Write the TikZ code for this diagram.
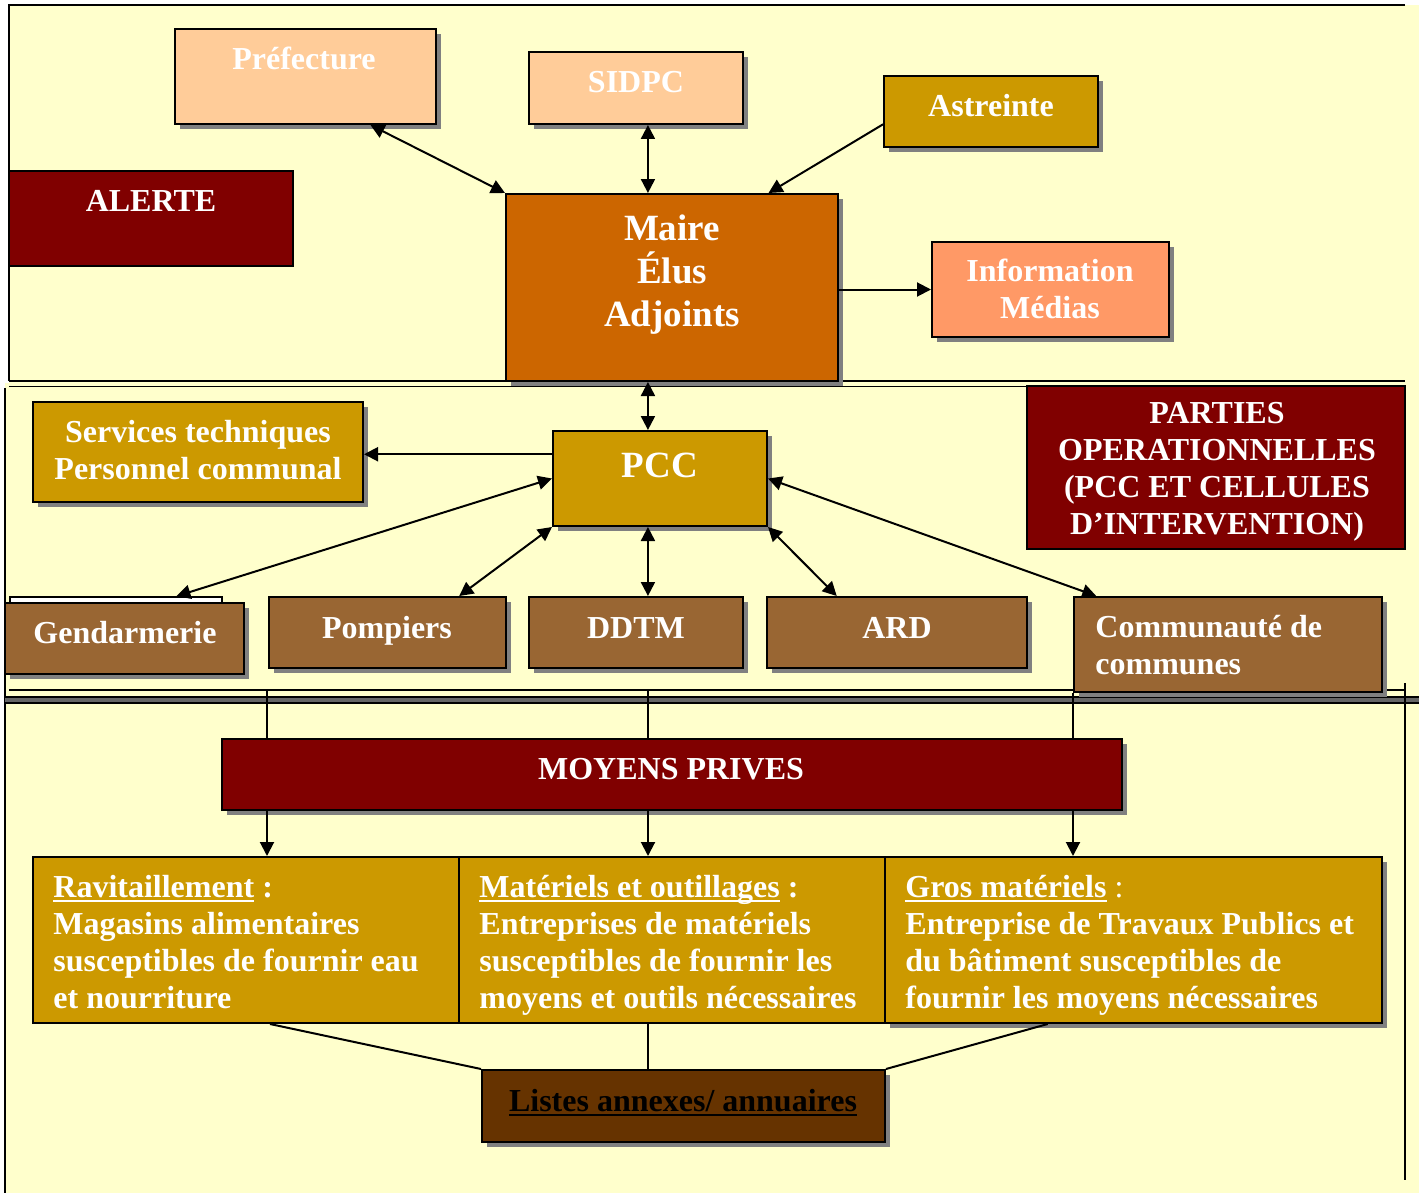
\documentclass[tikz,border=0pt]{standalone}
\usepackage{fontspec}
\setmainfont{Liberation Serif}
\usetikzlibrary{arrows.meta,shadows,fit,calc}
\definecolor{bgyellow}{HTML}{FFFFCC}
\definecolor{peach}{HTML}{FFCC99}
\definecolor{gold}{HTML}{CC9900}
\definecolor{maroon}{HTML}{800000}
\definecolor{rust}{HTML}{CC6600}
\definecolor{salmon}{HTML}{FF9966}
\definecolor{brownbox}{HTML}{996633}
\definecolor{darkbrown}{HTML}{663300}
\definecolor{shadowgray}{HTML}{808080}
\newcommand\myuline[1]{\setbox0\hbox{#1}\rlap{\rule[-2.4pt]{\wd0}{1pt}}\box0\relax}
\begin{document}
\begin{tikzpicture}[x=0.5pt,y=-0.5pt,
  box/.style={draw=black, line width=1pt, inner sep=0pt},
  shad/.style={drop shadow={shadow xshift=2.5pt, shadow yshift=-2.5pt, fill=shadowgray, opacity=1}},
  lbl/.style={text=white, font=\fontsize{16}{18.4}\selectfont\bfseries, inner sep=0pt, align=center, anchor=base},
  lbll/.style={lbl, align=left, anchor=base west},
  big/.style={lbl, font=\fontsize{18.5}{21.3}\selectfont\bfseries},
  conn/.style={line width=1pt},
  arr/.style={conn, -{Triangle[length=7pt,width=7pt]}},
  darr/.style={conn, {Triangle[length=7pt,width=7pt]}-{Triangle[length=7pt,width=7pt]}},
  sepline/.style={line width=1pt}
]
\useasboundingbox (0,0) rectangle (1419,1193);
% background
\fill[white] (0,0) rectangle (1419,1193);
\fill[bgyellow] (9,5) rectangle (1419,386);
\fill[bgyellow] (5,383) rectangle (1419,1193);
% band separators
\draw[sepline] (1405,5) -- (9,5) -- (9,381);
\draw[line width=1.3pt] (9,381) -- (1405,381);
\draw[line width=0.8pt] (9,386.5) -- (1405,386.5);
\draw[line width=0.8pt] (5,388) -- (5,1193);
\draw[line width=0.9pt] (9,690) -- (1405,690);
\fill[black!60] (5,697) rectangle (1419,703);
\draw[line width=0.8pt] (5,697) -- (1419,697);
\draw[line width=0.8pt] (5,703) -- (1419,703);
\draw[line width=0.8pt] (1405,683) -- (1405,1180);

% ---------- top band ----------
\node[box, shad, fill=peach, fit={(175,29)(436,124)}] (pref) {};
\node[box, shad, fill=peach, fit={(529,52)(743,124)}] (sidpc) {};
\node[box, shad, fill=gold, fit={(884,76)(1098,147)}] (astr) {};
\node[box, fill=maroon, fit={(9,171)(293,266)}] (alerte) {};
\node[box, shad, fill=rust, fit={(506,194)(838,381)}] (maire) {};
\node[box, shad, fill=salmon, fit={(932,242)(1169,337)}] (info) {};

% multi-line texts are placed by the baseline of their last line
\node[lbl] (tpref) at (304,70) {Préfecture};
\node[lbl] (tsidpc) at (636,93) {SIDPC};
\node[lbl] (tastr) at (991,117) {Astreinte};
\node[lbl] (talerte) at (151,211) {ALERTE};
\node[big] (tmaire) at (672,326) {Maire\\Élus\\Adjoints};
\node[lbl] (tinfo) at (1050,318) {Information\\Médias};

% ---------- middle band ----------
\node[box, shad, fill=gold, fit={(33,402)(363,502)}] (serv) {};
\node[box, shad, fill=gold, fit={(553,431)(767,526)}] (pcc) {};
\node[box, fill=maroon, fit={(1027,386)(1405,549)}] (parties) {};
\node[box, line width=0.8pt, fill=white, fit={(10,597)(222,610)}] (gendback) {};
\node[box, shad, fill=brownbox, fit={(5,603)(244,674)}] (gend) {};
\node[box, shad, fill=brownbox, fit={(269,597)(506,668)}] (pomp) {};
\node[box, shad, fill=brownbox, fit={(529,597)(743,668)}] (ddtm) {};
\node[box, shad, fill=brownbox, fit={(767,597)(1027,668)}] (ard) {};
\node[box, shad, fill=brownbox, fit={(1074,597)(1382,692)}] (comm) {};

\node[lbl] (tserv) at (198,479) {Services techniques\\Personnel communal};
\node[big] (tpcc) at (660,477) {PCC};
\node[lbl] (tparties) at (1217,534) {PARTIES\\OPERATIONNELLES\\(PCC ET CELLULES\\D’INTERVENTION)};
\node[lbl] (tgend) at (125,643) {Gendarmerie};
\node[lbl] (tpomp) at (387,638) {Pompiers};
\node[lbl] (tddtm) at (636,638) {DDTM};
\node[lbl] (tard) at (897,638) {ARD};
\node[lbll] (tcomm) at (1095,674) {Communauté de\\communes};

% ---------- bottom band ----------
\node[box, shad, fill=maroon, fit={(222,739)(1122,810)}] (moyens) {};
\node[box, fill=gold, fit={(33,857)(459,1023)}] (rav) {};
\node[box, fill=gold, fit={(459,857)(885,1023)}] (mat) {};
\node[box, shad, fill=gold, fit={(885,857)(1382,1023)}] (gros) {};
\node[box, shad, fill=darkbrown, fit={(482,1070)(885,1142)}] (listes) {};

\node[lbl] (tmoyens) at (671,779) {MOYENS PRIVES};
\node[lbll] (trav) at (53,1008) {\myuline{Ravitaillement} :\\Magasins alimentaires\\susceptibles de fournir eau\\et nourriture};
\node[lbll] (tmat) at (479,1008) {\myuline{Matériels et outillages} :\\Entreprises de matériels\\susceptibles de fournir les\\moyens et outils nécessaires};
\node[lbll] (tgros) at (905,1008) {\myuline{Gros matériels} {\mdseries :}\\Entreprise de Travaux Publics et\\du bâtiment susceptibles de\\fournir les moyens nécessaires};
\node[lbl, text=black] (tlistes) at (683,1111) {\myuline{Listes annexes/ annuaires}};

% ---------- connectors ----------
\draw[darr] ($(pref.south west)!0.747!(pref.south east)$) -- (maire.north west);
\coordinate (mtop) at ($(maire.north west)!0.428!(maire.north east)$);
\draw[darr] (sidpc.south -| mtop) -- (mtop);
\draw[arr] ($(astr.north west)!0.676!(astr.south west)$) -- ($(maire.north west)!0.789!(maire.north east)$);
\draw[arr] (info.west -| maire.east) -- (info.west);
\coordinate (mbot) at ($(maire.south west)!0.428!(maire.south east)$);
\draw[darr] (mbot) -- (mbot |- pcc.north);
\coordinate (pw) at ($(pcc.north west)!0.25!(pcc.south west)$);
\draw[arr] (pw) -- (pw -| serv.east);
\draw[darr] (pcc.west) -- ($(gendback.north west)!0.783!(gendback.north east)$);
\draw[darr] (pcc.south west) -- ($(pomp.north west)!0.8!(pomp.north east)$);
\coordinate (pb) at (mbot |- pcc.south);
\draw[darr] (pb) -- (pb |- ddtm.north);
\draw[darr] (pcc.south east) -- ($(ard.north west)!0.27!(ard.north east)$);
\draw[darr] (pcc.east) -- ($(comm.north west)!0.075!(comm.north east)$);

\coordinate (v1) at (267,690);
\coordinate (v2) at (648,690);
\draw[conn] (v1) -- (v1 |- moyens.north);
\draw[arr] (v1 |- moyens.south) -- (v1 |- rav.north);
\draw[conn] (v2) -- (v2 |- moyens.north);
\draw[arr] (v2 |- moyens.south) -- (v2 |- mat.north);
\draw[conn] (comm.south west) -- (comm.south west |- moyens.north);
\draw[arr] (comm.south west |- moyens.south) -- (comm.south west |- gros.north);

\draw[conn] ($(rav.south west)!0.556!(rav.south east)$) -- (listes.north west);
\draw[conn] (v2 |- mat.south) -- (v2 |- listes.north);
\draw[conn] ($(gros.south west)!0.328!(gros.south east)$) -- (listes.north east);
\end{tikzpicture}
\end{document}
